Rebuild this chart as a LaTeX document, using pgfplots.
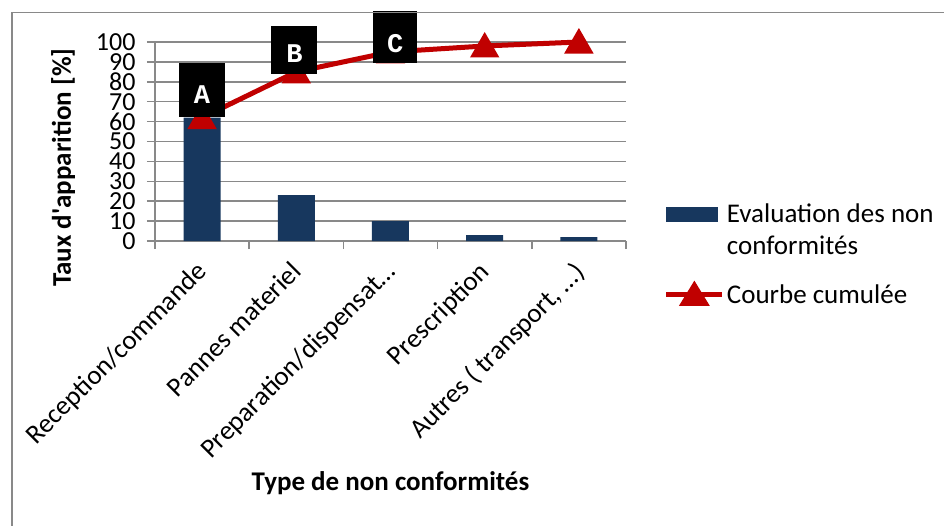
\documentclass[border=0pt]{standalone}
\usepackage{fontspec}
\setmainfont{Carlito}
\newfontfamily\boxfont{Liberation Mono}
\usepackage{pgfplots}
\pgfplotsset{compat=1.18}

\definecolor{barblue}{HTML}{17375E}
\definecolor{linered}{HTML}{C00000}
\definecolor{gridgray}{HTML}{898989}

\newcommand{\chartfont}{\fontsize{27}{32}\selectfont}

\begin{document}
\begin{tikzpicture}
\begin{axis}[
    width=471pt, height=199pt, scale only axis,
    xmin=-0.5, xmax=4.5, ymin=0, ymax=100,
    axis x line=bottom, axis y line=left,
    axis line style={gridgray, line width=1.5pt, -},
    ytick={0,10,...,100},
    ymajorgrids=true,
    grid style={gridgray, line width=1.5pt},
    xtick={0,1,2,3,4},
    xticklabels={Reception/commande, Pannes materiel, Preparation/dispensat\dots, Prescription, {Autres ( transport, \dots)}},
    minor xtick={-0.5,0.5,...,4.5},
    major x tick style={draw=none},
    tick style={gridgray, line width=1.5pt},
    tick align=outside,
    major tick length=8pt, minor tick length=8pt,
    /pgf/number format/assume math mode=true,
    yticklabel style={font=\fontsize{26}{26}\selectfont, xshift=-8pt},
    xticklabel style={font=\chartfont, xshift=-7pt, yshift=-8pt, rotate=45, anchor=north east, inner sep=2pt},
    ylabel={Taux d\textquotesingle apparition [\%]},
    ylabel style={font=\bfseries\chartfont, at={(axis description cs:-0.195,0.369)}, anchor=center},
    xlabel={Type de non conformités},
    xlabel style={font=\bfseries\chartfont, at={(axis description cs:0.5,-1.216)}, anchor=center},
    clip=false,
    legend style={at={(axis description cs:1.08,0.2)}, anchor=north west,
        draw=none, fill=none, font=\chartfont, inner sep=0pt,
        cells={anchor=base west, align=left}, row sep=25pt},
]
\addplot[ybar, bar width=37pt, fill=barblue, draw=none,
    legend image code/.code={\fill[barblue] (0pt,32pt) rectangle (52pt,47pt);}]
    coordinates {(0,62) (1,23) (2,10) (3,3) (4,2)};
\addlegendentry{Evaluation des non\\conformités}
\addplot[linered, line width=5pt, mark=triangle*, mark size=12pt,
    mark options={solid, fill=linered, draw=none, yshift=-3pt},
    legend image code/.code={
        \draw[linered, line width=5pt] (0pt,9pt) -- (56pt,9pt);
        \fill[linered] (17pt,0pt) -- (28pt,18pt) -- (39pt,0pt) -- cycle;}]
    coordinates {(0,62) (1,85) (2,95) (3,98) (4,100)};
\addlegendentry{Courbe cumulée}

\coordinate (la) at (axis cs:0,76);
\coordinate (lb) at (axis cs:0.98,96);
\coordinate (lc) at (axis cs:2.05,102.5);
\end{axis}
% data-label boxes drawn after the axis so they sit over the red curve
\tikzset{lbl/.style={fill=black, inner sep=0pt},
         lbltext/.style={text=white, inner sep=0pt, font=\boxfont\bfseries\fontsize{27}{27}\selectfont}}
\node[lbl, minimum width=46pt, minimum height=54pt] (ba) at (la) {};
\node[lbl, minimum width=46pt, minimum height=48pt] (bb) at (lb) {};
\node[lbl, minimum width=44pt, minimum height=52pt] (bc) at (lc) {};
\node[lbltext] at ([yshift=-5pt]ba.center) {A};
\node[lbltext] at ([yshift=-4pt]bb.center) {B};
\node[lbltext] at ([yshift=-7pt]bc.center) {C};
\draw[gridgray, line width=1.5pt] (-143pt,-400pt) rectangle (900pt,228.5pt);
\pgfresetboundingbox
\useasboundingbox (-155pt,-284pt) rectangle (789pt,241pt);
\end{tikzpicture}
\end{document}
